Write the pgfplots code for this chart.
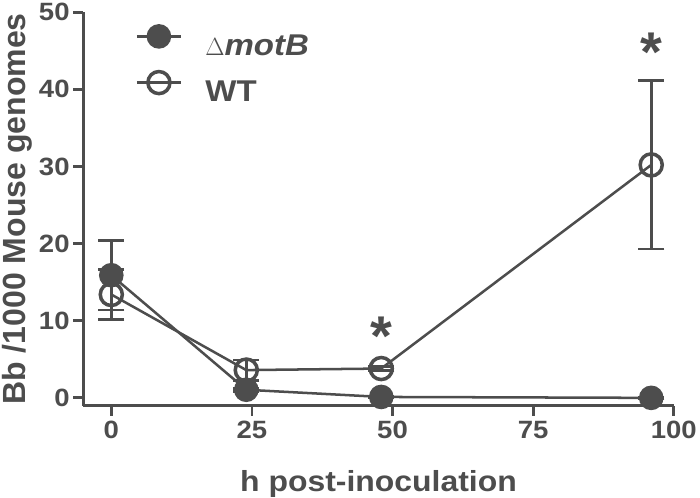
\documentclass[border=0pt]{standalone}
\usepackage{pgfplots}
\pgfplotsset{compat=1.18}
\usepackage{fontspec}
\setmainfont{Liberation Sans}
\newfontfamily\sfx[FakeStretch=1.1]{Liberation Sans}
\definecolor{pg}{RGB}{77,77,77}
\pgfplotstableread{
x y e
0 15.9 4.5
24 1.05 0.2
48 0.12 0.1
96 0.0 0.1
}\motB
\pgfplotstableread{
x y e
0 13.4 3.2
24 3.6 1.3
48 3.8 0.3
96 30.2 10.9
}\WT
\begin{document}
\begin{tikzpicture}
\begin{axis}[
  scale only axis, width=588bp, height=392bp,
  xmin=-5, xmax=100, ymin=-1.04, ymax=50,
  axis x line*=bottom, axis y line*=left,
  axis line style={pg, line width=2.8bp},
  xtick={0,25,50,75,100}, ytick={0,10,20,30,40,50},
  tick align=outside, major tick length=10bp,
  tick style={pg, line width=2.8bp},
  /pgf/number format/assume math mode=true,
  ticklabel style={font=\sfx\fontsize{25}{28}\selectfont\bfseries, text=pg},
  xticklabel style={yshift=-2bp},
  xlabel={h post-inoculation}, ylabel={Bb /1000 Mouse genomes},
  xlabel style={font=\sfx\fontsize{29}{34}\selectfont\bfseries, text=pg,
    at={(axis description cs:0.5,-0.2168)}, anchor=base, inner sep=0pt},
  ylabel style={font=\fontsize{32}{36}\selectfont\bfseries, text=pg,
    at={(axis description cs:-0.1412,0.5)}, anchor=north, inner xsep=0pt, inner ysep=2bp},
  legend style={at={(0.0884,0.862)}, anchor=west, draw=none, fill=none,
    inner sep=0pt, row sep=10bp, column sep=0pt,
    font=\sfx\fontsize{30}{36}\selectfont\bfseries, text=pg,
    nodes={inner sep=0pt, text height=22bp, text depth=6bp}},
  legend cell align=left,
  legend image code/.code={\draw[mark repeat=2,mark phase=2,#1] plot coordinates {(0bp,11bp) (22bp,11bp) (44bp,11bp)};},
  clip=false,
]
\addlegendimage{pg, line width=2.5bp, mark=*, mark size=11bp, mark options={fill=pg, pg, solid}}
\addlegendentry{\hspace*{23bp}{\fontspec{Liberation Sans}\mdseries$\Delta$}\textit{motB}}
\addlegendimage{pg, line width=2.5bp, mark=o, mark size=11bp, mark options={line width=3.5bp, pg, solid}}
\addlegendentry{\hspace*{23bp}WT}
\addplot[forget plot, pg, line width=2.5bp, mark=o, mark size=11bp, mark options={line width=3.5bp, pg, solid},
  error bars/.cd, y dir=both, y explicit,
  error bar style={line width=2.8bp, pg},
  error mark options={rotate=90, mark size=13bp, line width=2.8bp, pg}]
  table[x=x, y=y, y error=e] {\WT};
\addplot[forget plot, pg, line width=2.5bp, mark=*, mark size=11bp, mark options={fill=pg, pg, solid},
  error bars/.cd, y dir=both, y explicit,
  error bar style={line width=2.8bp, pg},
  error mark options={rotate=90, mark size=13bp, line width=2.8bp, pg}]
  table[x=x, y=y, y error=e] {\motB};
\node[anchor=north, inner sep=0pt, text=pg, font=\fontsize{56}{60}\selectfont\bfseries] at (axis cs:48,10.5) {*};
\node[anchor=north, inner sep=0pt, text=pg, font=\fontsize{56}{60}\selectfont\bfseries] at (axis cs:96,47.3) {*};
\end{axis}
\end{tikzpicture}
\end{document}
